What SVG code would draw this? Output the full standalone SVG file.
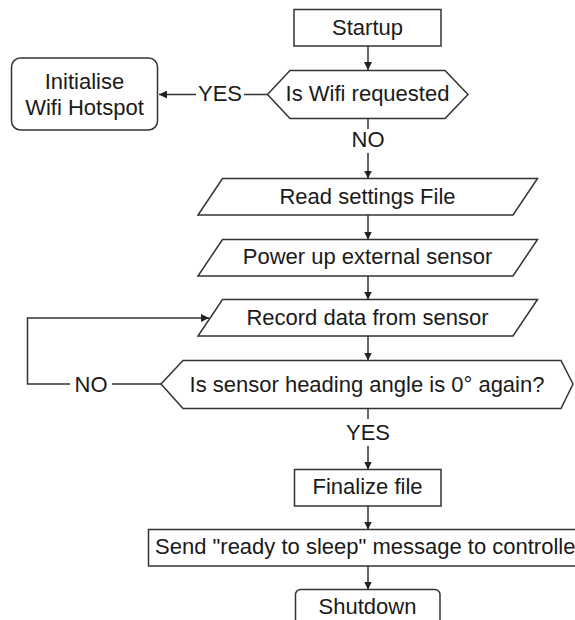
<svg xmlns="http://www.w3.org/2000/svg" width="575" height="620" viewBox="0 0 575 620">
  <style>
    .shape { fill: #ffffff; stroke: #333333; stroke-width: 1.5; }
    .line { fill: none; stroke: #333333; stroke-width: 1.5; }
    .label { font-family: "Liberation Sans", Arial, sans-serif; font-size: 22px; fill: #1a1a1a; text-anchor: middle; }
  </style>
  <defs>
    <marker id="arrow" viewBox="0 0 10 10" refX="10" refY="5" markerWidth="8" markerHeight="8" markerUnits="userSpaceOnUse" orient="auto">
      <path d="M0,0 L10,5 L0,10 Z" fill="#222222"/>
    </marker>
  </defs>
  <rect width="575" height="620" fill="#ffffff"/>

  <!-- connectors -->
  <g id="connectors">
    <line class="line" x1="368" y1="46" x2="368" y2="70" marker-end="url(#arrow)"/>
    <line class="line" x1="268" y1="94.5" x2="244" y2="94.5"/>
    <line class="line" x1="196" y1="94.5" x2="159" y2="94.5" marker-end="url(#arrow)"/>
    <text class="label" x="220" y="101">YES</text>
    <line class="line" x1="368" y1="118.5" x2="368" y2="129"/>
    <text class="label" x="368" y="147">NO</text>
    <line class="line" x1="368" y1="153" x2="368" y2="178.5" marker-end="url(#arrow)"/>
    <line class="line" x1="368" y1="215" x2="368" y2="239.5" marker-end="url(#arrow)"/>
    <line class="line" x1="368" y1="276" x2="368" y2="299.5" marker-end="url(#arrow)"/>
    <line class="line" x1="368" y1="336" x2="368" y2="360.5" marker-end="url(#arrow)"/>
    <line class="line" x1="161" y1="384" x2="112" y2="384"/>
    <text class="label" x="91" y="392">NO</text>
    <polyline class="line" points="70,384 27.5,384 27.5,318 209,318" marker-end="url(#arrow)"/>
    <line class="line" x1="368" y1="408.5" x2="368" y2="419"/>
    <text class="label" x="368" y="440">YES</text>
    <line class="line" x1="368" y1="446" x2="368" y2="469.5" marker-end="url(#arrow)"/>
    <line class="line" x1="368" y1="506" x2="368" y2="529.5" marker-end="url(#arrow)"/>
    <line class="line" x1="368" y1="566" x2="368" y2="589.5" marker-end="url(#arrow)"/>
  </g>

  <g id="startup">
    <rect class="shape" x="294" y="9.5" width="147" height="36.5"/>
    <text class="label" x="367.5" y="35">Startup</text>
  </g>

  <g id="wifi-decision">
    <polygon class="shape" points="267.5,94.5 290,70.5 445,70.5 468,94.5 445,118.5 290,118.5"/>
    <text class="label" x="367.5" y="101">Is Wifi requested</text>
  </g>

  <g id="wifi-hotspot">
    <rect class="shape" x="11.5" y="58" width="146" height="72" rx="9" ry="9"/>
    <text class="label" x="84.5" y="88.5">Initialise</text>
    <text class="label" x="84.5" y="114.5">Wifi Hotspot</text>
  </g>

  <g id="read-settings">
    <polygon class="shape" points="222.5,178.5 537.5,178.5 513,215 198,215"/>
    <text class="label" x="367.5" y="203.5">Read settings File</text>
  </g>

  <g id="power-sensor">
    <polygon class="shape" points="222.5,239.5 537.5,239.5 513,276 198,276"/>
    <text class="label" x="367.5" y="264">Power up external sensor</text>
  </g>

  <g id="record-data">
    <polygon class="shape" points="222.5,299.5 537.5,299.5 513,336 198,336"/>
    <text class="label" x="367.5" y="324.5">Record data from sensor</text>
  </g>

  <g id="heading-decision">
    <polygon class="shape" points="161,384 183,360.5 561,360.5 573,384 561,408.5 183,408.5"/>
    <text class="label" x="367" y="392">Is sensor heading angle is 0° again?</text>
  </g>

  <g id="finalize">
    <rect class="shape" x="294.5" y="469.5" width="146.5" height="36.5"/>
    <text class="label" x="367.5" y="493.5">Finalize file</text>
  </g>

  <g id="send-message">
    <rect class="shape" x="148.5" y="529.5" width="440" height="36.5"/>
    <text class="label" x="155" y="554" style="text-anchor: start">Send "ready to sleep" message to controller</text>
  </g>

  <g id="shutdown">
    <rect class="shape" x="295.5" y="589.5" width="144.5" height="40" rx="5" ry="5"/>
    <text class="label" x="367.5" y="613.5">Shutdown</text>
  </g>
</svg>
